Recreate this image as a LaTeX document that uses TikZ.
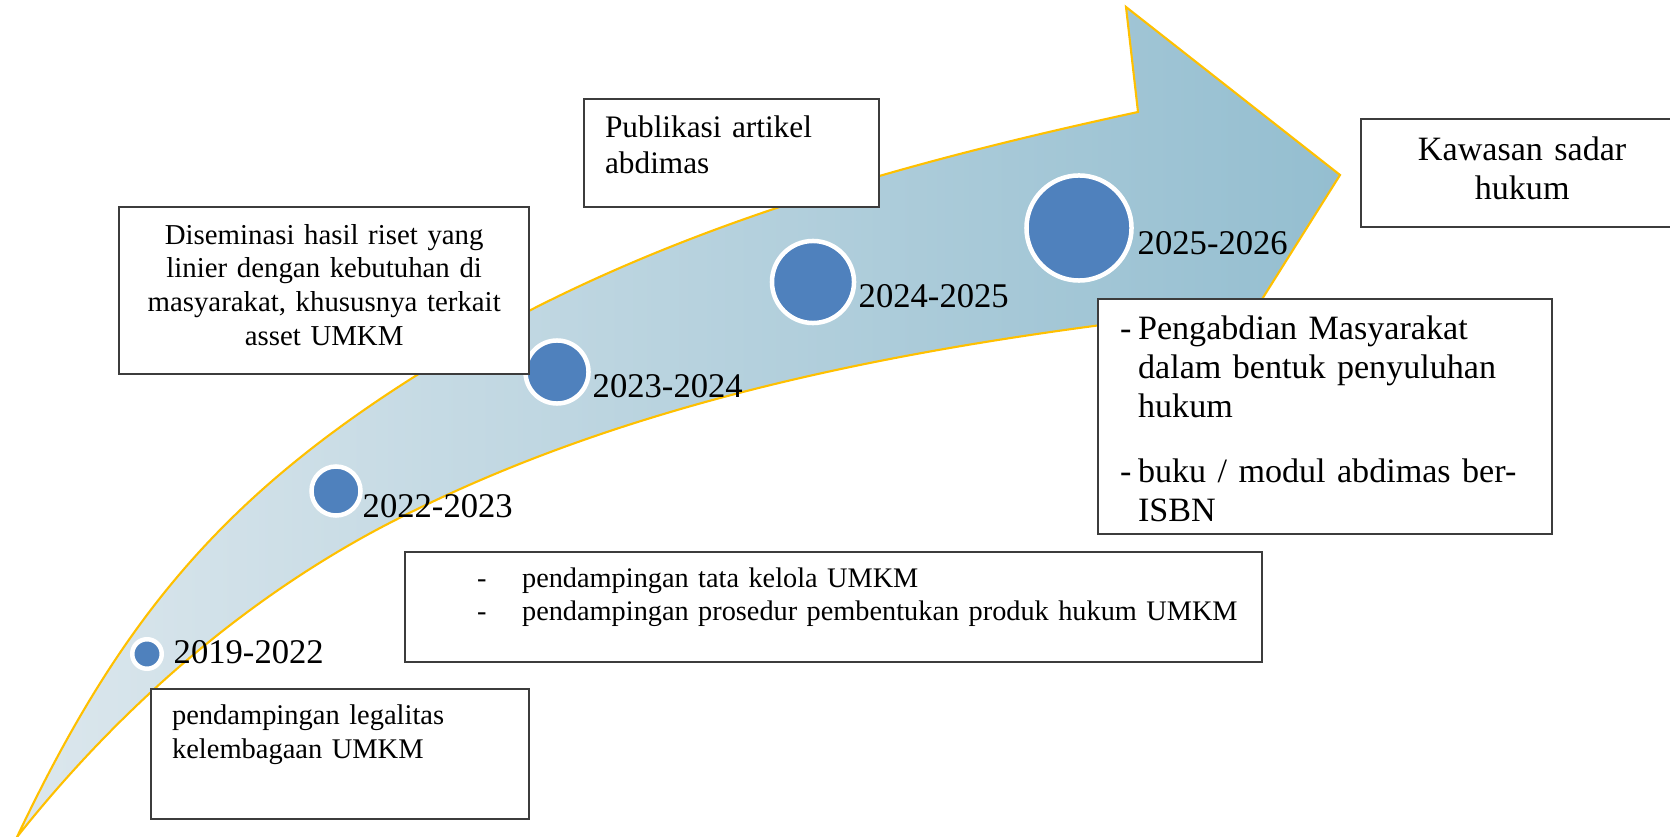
\documentclass[tikz,border=0pt]{standalone}
\usepackage{fontspec}
\setmainfont{Liberation Serif}
\usepackage{xcolor}
\usepackage{tikz}

\definecolor{arrowline}{HTML}{FFC000}
\definecolor{arrowleft}{HTML}{DCE7ED}
\definecolor{arrowright}{HTML}{94BED0}
\definecolor{dotblue}{HTML}{4F81BD}
\definecolor{boxline}{HTML}{3C3C3C}

\tikzset{
    dot/.style = {circle, fill = dotblue, draw = white, line width = 0.045cm, inner sep = 0pt},
    year/.style = {anchor = base west, inner sep = 0pt, font = \fontsize{9.85}{11}\selectfont},
    box/.style = {draw = boxline, line width = 0.6pt, fill = white, anchor = north west, inner ysep = 0pt}
}

\begin{document}
\begin{tikzpicture} [x = 0.01cm, y = -0.01cm]

        \useasboundingbox (0,0) rectangle (1670,837);

        \path [draw = arrowline, line width = 0.6pt, left color = arrowleft, right color = arrowright]
            (17,837) .. controls (120,620) and (222,498) .. (417,375)
            .. controls (633,237) and (888,166) .. (1138,112)
            -- (1126,7) -- (1340,175) -- (1205,390) -- (1165,317)
            .. controls (897,349) and (619,402) .. (380,528)
            .. controls (239,603) and (116,712) .. (17,837) -- cycle;

        \node (c1) [dot, minimum size = 0.295cm] at (147,654) {};
        \node (c2) [dot, minimum size = 0.49cm] at (336,491) {};
        \node (c3) [dot, minimum size = 0.63cm] at (557,372) {};
        \node (c4) [dot, minimum size = 0.82cm] at (813,282) {};
        \node (c5) [dot, minimum size = 1.05cm] at (1079,228) {};

        \node (y1) [year] at (173,663) {2019-2022};
        \node (y2) [year] at (362,517) {2022-2023};
        \node (y3) [year] at (592,398) {2023-2024};
        \node (y4) [year] at (858,308) {2024-2025};
        \node (y5) [year] at (1137,255) {2025-2026};

        \node (pub) [box, inner xsep = 0.21cm, text width = 2.53cm, text height = 0.38cm, text depth = 0.70cm,
            align = left, font = \fontsize{8.9}{10.24}\selectfont] at (583,98) {Publikasi artikel\\ abdimas};
        \node (dis) [box, inner xsep = 0.15cm, text width = 3.80cm, text height = 0.37cm, text depth = 1.30cm,
            align = center, font = \fontsize{8.2}{9.6}\selectfont] at (118,206)
            {Diseminasi hasil riset yang\\ linier dengan kebutuhan di\\ masyarakat, khususnya terkait\\ asset UMKM};
        \node (kaw) [box, inner xsep = 0.2cm, text width = 2.82cm, text height = 0.41cm, text depth = 0.67cm,
            align = center, font = \fontsize{9.7}{11.1}\selectfont] at (1360,118) {Kawasan sadar\\ hukum};
        \node (peng) [box, inner xsep = 0.22cm, text width = 4.10cm, text height = 0.40cm, text depth = 1.95cm,
            align = left, font = \fontsize{9.7}{11.1}\selectfont] at (1097,298)
            {\makebox[0.18cm][l]{-}Pengabdian Masyarakat\\ \hspace*{0.18cm}dalam bentuk penyuluhan\\ \hspace*{0.18cm}hukum\\[0.26cm]
             \makebox[0.18cm][l]{-}buku / modul abdimas ber-\\ \hspace*{0.18cm}ISBN};
        \node (tata) [box, inner xsep = 0.2cm, text width = 8.16cm, text height = 0.35cm, text depth = 0.75cm,
            align = left, font = \fontsize{8.05}{9.4}\selectfont] at (404,551)
            {\hspace*{0.52cm}\makebox[0.45cm][l]{-}pendampingan tata kelola UMKM\\
             \hspace*{0.52cm}\makebox[0.45cm][l]{-}pendampingan prosedur pembentukan produk hukum UMKM};
        \node (legal) [box, inner xsep = 0.21cm, text width = 3.36cm, text height = 0.35cm, text depth = 0.95cm,
            align = left, font = \fontsize{8.1}{9.7}\selectfont] at (150,688) {pendampingan legalitas\\ kelembagaan UMKM};

    \end{tikzpicture}
\end{document}
